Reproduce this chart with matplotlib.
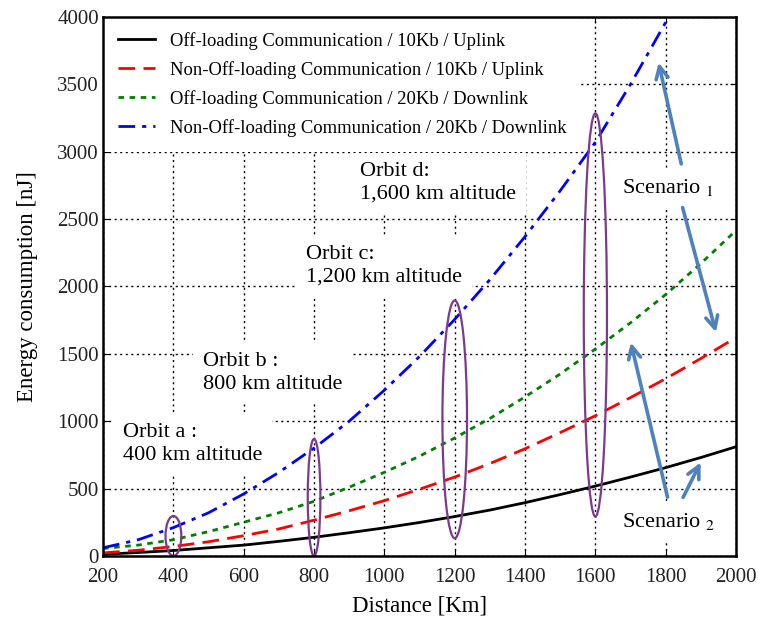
import matplotlib
matplotlib.use("Agg")
import matplotlib.pyplot as plt
from matplotlib.patches import Ellipse

plt.rcParams['font.family'] = ['Liberation Serif', 'DejaVu Serif']
plt.rcParams['mathtext.fontset'] = 'stix'

# distance [km] and energy [nJ] for each scheme
distance = [200, 300, 400, 500, 600, 700, 800, 900, 1000, 1100,
            1200, 1300, 1400, 1500, 1600, 1700, 1800, 1900, 2000]
offload_10kb_up = [12, 25, 40, 60, 80, 108, 138, 172, 208, 248,
                   292, 340, 395, 455, 518, 585, 655, 730, 810]
nonoffload_10kb_up = [22, 42, 70, 105, 150, 200, 265, 335, 410, 495,
                      585, 685, 795, 915, 1040, 1175, 1315, 1465, 1620]
offload_20kb_down = [55, 80, 120, 180, 250, 320, 405, 510, 620, 740,
                     875, 1020, 1180, 1350, 1535, 1730, 1940, 2170, 2415]
nonoffload_20kb_down = [60, 120, 210, 320, 460, 620, 800, 1000, 1230, 1480,
                        1755, 2050, 2370, 2710, 3070, 3500, 3960, 4440, 4950]

labels = ['Off-loading Communication / 10Kb / Uplink',
          'Non-Off-loading Communication / 10Kb / Uplink',
          'Off-loading Communication / 20Kb / Downlink',
          'Non-Off-loading Communication / 20Kb / Downlink']

x_ticks = [200, 400, 600, 800, 1000, 1200, 1400, 1600, 1800, 2000]
y_ticks = [0, 500, 1000, 1500, 2000, 2500, 3000, 3500, 4000]

orbit_notes = ['Orbit a :\n400 km altitude',
               'Orbit b :\n800 km altitude',
               'Orbit c:\n1,200 km altitude',
               'Orbit d:\n1,600 km altitude']

fig = plt.figure(figsize=(7.58, 6.26), dpi=100)
ax = fig.add_axes([0.136, 0.112, 0.835, 0.861])

ax.plot(distance, offload_10kb_up, color='black', lw=2, zorder=4, label=labels[0])
ax.plot(distance, nonoffload_10kb_up, color='#ff0000', lw=2, ls=(0, (6, 3)), zorder=4, label=labels[1])
ax.plot(distance, offload_20kb_down, color='#008000', lw=2, ls=(0, (2, 2)), zorder=4, label=labels[2])
ax.plot(distance, nonoffload_20kb_down, color='#0000ff', lw=2, ls=(0, (6, 2.5, 1.5, 2.5)), zorder=4, label=labels[3])

ax.set_xlim(200, 2000)
ax.set_ylim(0, 4000)
ax.set_xticks(x_ticks)
ax.set_yticks(y_ticks)
ax.grid(True, color='black', ls=(0, (1.5, 2.5)), lw=1.0)
ax.set_axisbelow(True)
ax.tick_params(direction='in', length=4, top=True, right=True,
               labelsize=15, labelcolor='#222222')
ax.tick_params(axis='x', pad=9)
ax.tick_params(axis='y', pad=3)
for sp in ax.spines.values():
    sp.set_linewidth(1.8)
    sp.set_zorder(10)

ax.set_xlabel('Distance [Km]', fontsize=16.5, labelpad=6)
ax.set_ylabel('Energy consumption [nJ]', fontsize=16.5, labelpad=14)

leg = ax.legend(loc='upper left', bbox_to_anchor=(0, 1), borderaxespad=0,
                borderpad=0.8, fontsize=13.4, handlelength=2.0,
                handletextpad=0.8, labelspacing=0.6, frameon=True,
                fancybox=False, framealpha=1)
leg.get_frame().set_edgecolor('none')

# orbit notes with white boxes over the grid
box = dict(facecolor='white', edgecolor='none', pad=7)
note_x = [257, 484, 777, 931]
note_y = [831, 1358, 2156, 2766]
for txt, tx, ty in zip(orbit_notes, note_x, note_y):
    ax.text(tx, ty, txt, fontsize=16, ha='left', va='center',
            linespacing=1.25, bbox=box, zorder=3)

# ellipses marking each orbit distance
rings = [(400, 148, 45, 296), (800, 434, 36, 868),
         (1200, 1013, 70, 1764), (1600, 1788, 66, 2993)]
for cx, cy, w, h in rings:
    ax.add_patch(Ellipse((cx, cy), w, h, fill=False, edgecolor='#7a3b8c',
                         lw=1.6, zorder=5, clip_on=False))

ax.text(1676, 2731, 'Scenario $_1$', fontsize=16, ha='left', va='center',
        bbox=box, zorder=3)
ax.text(1675, 255, 'Scenario $_2$', fontsize=16, ha='left', va='center',
        bbox=box, zorder=3)

arrow = dict(arrowstyle='->', color='#4f81bd', lw=2.6, mutation_scale=22)
ax.annotate('', xy=(1778, 3681), xytext=(1846, 2889), arrowprops=arrow, zorder=6)
ax.annotate('', xy=(1945, 1640), xytext=(1846, 2605), arrowprops=arrow, zorder=6)
ax.annotate('', xy=(1699, 1603), xytext=(1807, 416), arrowprops=arrow, zorder=6)
ax.annotate('', xy=(1903, 712), xytext=(1846, 416), arrowprops=arrow, zorder=6)

fig.savefig('out.png', dpi=100)
